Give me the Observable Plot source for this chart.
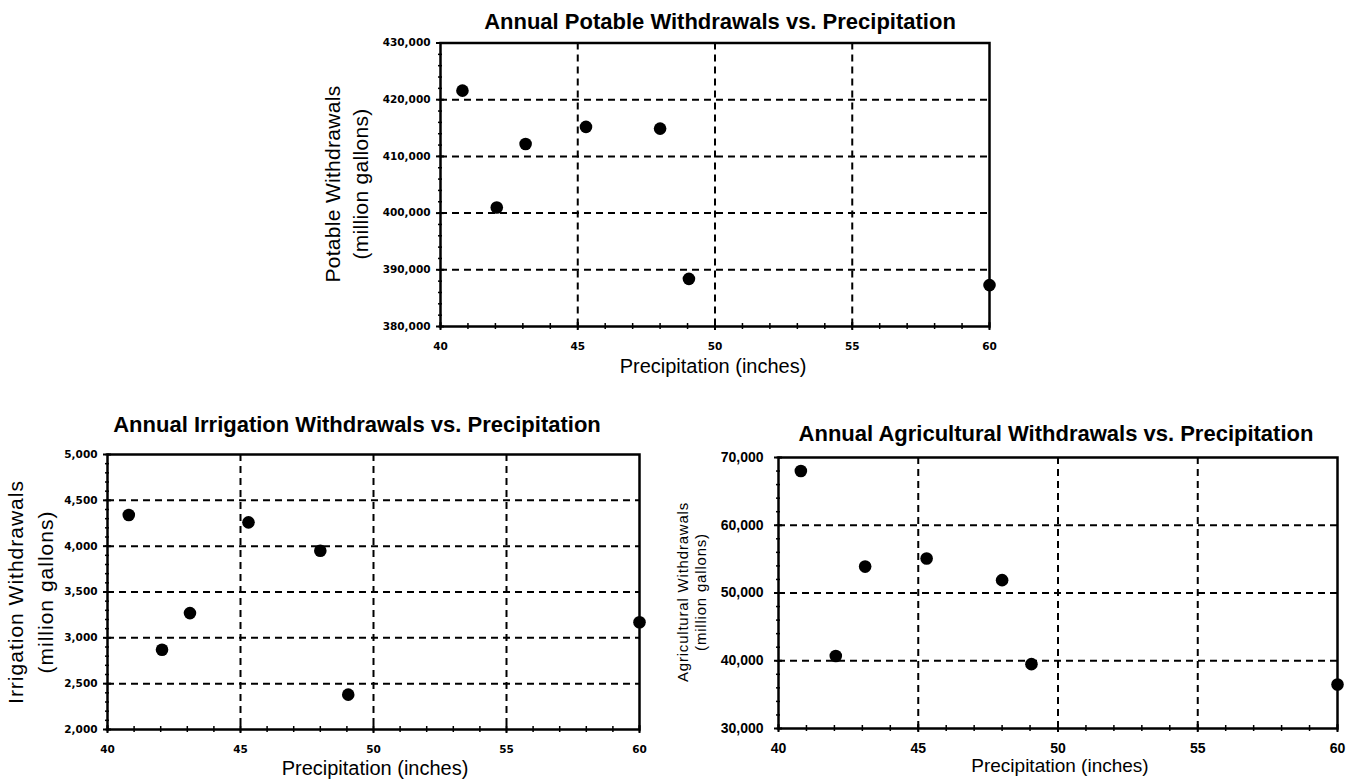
<!DOCTYPE html>
<html><head><meta charset="utf-8">
<script src="https://cdn.jsdelivr.net/npm/d3@7"></script>
<script src="https://cdn.jsdelivr.net/npm/@observablehq/plot@0.6"></script>
<style>
html,body{margin:0;padding:0;background:#fff;}
body{width:1361px;height:779px;overflow:hidden;position:relative;font-family:"Liberation Sans",Arial,sans-serif;color:#000;}
.chart{position:absolute;}
.title{position:absolute;font-weight:bold;white-space:nowrap;transform:translate(-50%,-50%);line-height:1;}
.xlab{position:absolute;white-space:nowrap;transform:translate(-50%,-50%);line-height:1;}
.ylab{position:absolute;white-space:nowrap;text-align:center;transform:translate(-50%,-50%) rotate(-90deg);}
</style></head><body>
<script>
// ---- data ----
const precipitation = [40.8, 42.05, 43.1, 45.3, 48.0, 49.05, 60.0];
const potable = [421600, 401000, 412200, 415200, 414900, 388400, 387300];
const irrigation = [4340, 2870, 3270, 4260, 3950, 2380, 3170];
const agricultural = [68000, 40700, 53900, 55100, 51900, 39500, 36500];

const xTicks = [40, 45, 50, 55, 60];
const xTickLabels = ["40", "45", "50", "55", "60"];
const xGrid = [45, 50, 55];

const potableTicks = [380000, 390000, 400000, 410000, 420000, 430000];
const potableTickLabels = ["380,000", "390,000", "400,000", "410,000", "420,000", "430,000"];
const irrigationTicks = [2000, 2500, 3000, 3500, 4000, 4500, 5000];
const irrigationTickLabels = ["2,000", "2,500", "3,000", "3,500", "4,000", "4,500", "5,000"];
const agriculturalTicks = [30000, 40000, 50000, 60000, 70000];
const agriculturalTickLabels = ["30,000", "40,000", "50,000", "60,000", "70,000"];

const titles = ["Annual Potable Withdrawals vs. Precipitation",
                "Annual Irrigation Withdrawals vs. Precipitation",
                "Annual Agricultural Withdrawals vs. Precipitation"];
const yLabels = [["Potable Withdrawals", "(million gallons)"],
                 ["Irrigation Withdrawals", "(million gallons)"],
                 ["Agricultural Withdrawals", "(million gallons)"]];
const xLabel = "Precipitation (inches)";

// ---- layout ----
const configs = [
  {values: potable, ticks: potableTicks, labels: potableTickLabels, minorStep: 2000,
   left: 300, top: 0, width: 720, height: 400, mL: 140, mR: 31, mT: 42.5, mB: 74,
   tickFont: {fontFamily: "DejaVu Sans", fontSize: 10.5, fontWeight: "bold"}, xPad: 16, yPad: 10,
   title: {x: 720, y: 22, size: 22}, xlab: {x: 713, y: 366, size: 20},
   ylab: {x: 347, y: 184, size: 21, lh: 28, ls: 0.3}},
  {values: irrigation, ticks: irrigationTicks, labels: irrigationTickLabels, minorStep: 100,
   left: 0, top: 400, width: 680, height: 379, mL: 107, mR: 41, mT: 54, mB: 50,
   tickFont: {fontFamily: "DejaVu Sans", fontSize: 10.5, fontWeight: "bold"}, xPad: 16, yPad: 10,
   title: {x: 357, y: 425, size: 22}, xlab: {x: 375, y: 768, size: 20},
   ylab: {x: 31, y: 592, size: 21, lh: 30, ls: 1}},
  {values: agricultural, ticks: agriculturalTicks, labels: agriculturalTickLabels, minorStep: 2000,
   left: 680, top: 400, width: 681, height: 379, mL: 98, mR: 24, mT: 57, mB: 51,
   tickFont: {fontFamily: "Liberation Sans", fontSize: 14, fontWeight: "bold"}, xPad: 15, yPad: 15,
   title: {x: 1056, y: 434, size: 22}, xlab: {x: 1060, y: 765, size: 19},
   ylab: {x: 692, y: 592, size: 15, lh: 18, ls: 0.8}}
];

const dash = {stroke: "black", strokeWidth: 2, strokeDasharray: "7,5"};

configs.forEach((c, k) => {
  const data = precipitation.map((p, i) => ({p, v: c.values[i]}));
  const yDomain = [c.ticks[0], c.ticks[c.ticks.length - 1]];
  const yMinor = d3.range(yDomain[0], yDomain[1] + 1e-9, c.minorStep);
  const xMinor = d3.range(40, 60.001, 1);
  const plot = Plot.plot({
    width: c.width, height: c.height,
    marginLeft: c.mL, marginRight: c.mR, marginTop: c.mT, marginBottom: c.mB,
    style: {background: "transparent", overflow: "visible", color: "black"},
    x: {domain: [40, 60]},
    y: {domain: yDomain},
    marks: [
      Plot.ruleX(xGrid, dash),
      Plot.ruleY(c.ticks.slice(1, -1), dash),
      Plot.axisX(xMinor, {tickSize: 6, dy: -3, text: null, strokeWidth: 1.5, label: null}),
      Plot.axisX(xTicks, {tickSize: 8, dy: -4, text: null, strokeWidth: 2, label: null}),
      Plot.axisX(xTicks, {tickSize: 0, tickPadding: c.xPad, label: null,
        tickFormat: d => xTickLabels[xTicks.indexOf(d)], ...c.tickFont}),
      Plot.axisY(yMinor, {tickSize: 4, dx: 2, text: null, strokeWidth: 1.5, label: null}),
      Plot.axisY(c.ticks, {tickSize: 8, dx: 4, text: null, strokeWidth: 2, label: null}),
      Plot.axisY(c.ticks, {tickSize: 0, tickPadding: c.yPad, label: null,
        tickFormat: d => c.labels[c.ticks.indexOf(d)], ...c.tickFont}),
      Plot.frame({stroke: "black", strokeWidth: 2.5}),
      Plot.dot(data, {x: "p", y: "v", r: 6.3, fill: "black", stroke: "none"})
    ]
  });
  plot.classList.add("chart");
  plot.style.left = c.left + "px";
  plot.style.top = c.top + "px";
  document.body.appendChild(plot);

  const t = document.createElement("div");
  t.className = "title";
  t.textContent = titles[k];
  t.style.left = c.title.x + "px"; t.style.top = c.title.y + "px"; t.style.fontSize = c.title.size + "px";
  document.body.appendChild(t);

  const xl = document.createElement("div");
  xl.className = "xlab";
  xl.textContent = xLabel;
  xl.style.left = c.xlab.x + "px"; xl.style.top = c.xlab.y + "px"; xl.style.fontSize = c.xlab.size + "px";
  document.body.appendChild(xl);

  const yl = document.createElement("div");
  yl.className = "ylab";
  yl.innerHTML = yLabels[k].map(s => `<div>${s}</div>`).join("");
  yl.style.left = c.ylab.x + "px"; yl.style.top = c.ylab.y + "px";
  yl.style.fontSize = c.ylab.size + "px"; yl.style.lineHeight = c.ylab.lh + "px";
  yl.style.letterSpacing = c.ylab.ls + "px";
  document.body.appendChild(yl);
});
</script>
</body></html>
